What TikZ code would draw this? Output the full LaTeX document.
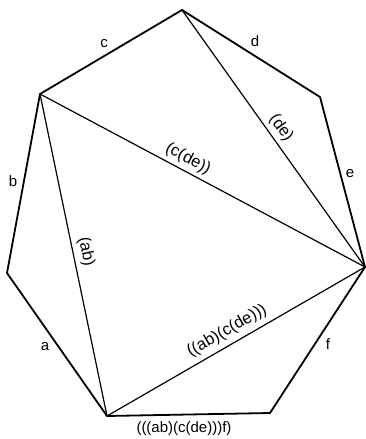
\documentclass[tikz,border=0pt]{standalone}
\usepackage{fontspec}
\setmainfont{Liberation Sans}
\begin{document}
\begin{tikzpicture}[x=1pt,y=-1pt,
  edge/.style={line width=1.8pt, line join=round, line cap=round},
  diag/.style={line width=1.2pt, line cap=round},
  lbl/.style={font=\fontsize{15}{17}\selectfont, inner sep=0pt},
  rlbl/.style={font=\fontsize{16.5}{18}\selectfont, inner sep=0pt}]
\useasboundingbox (0,0) rectangle (365,439);
% vertices
\coordinate (T)  at (182,10);
\coordinate (UL) at (40,94);
\coordinate (UR) at (320,97);
\coordinate (R)  at (365,267);
\coordinate (BR) at (270,413);
\coordinate (BL) at (107,416);
\coordinate (L)  at (7,273);
% outer polygon
\draw[edge] (UL) -- (T) -- (UR) -- (R) -- (BR) -- (BL) -- (L) -- cycle;
% diagonals
\draw[diag] (T) -- (R);
\draw[diag] (UL) -- (R);
\draw[diag] (UL) -- (BL);
\draw[diag] (BL) -- (R);
% edge labels
\node[lbl] (lc) at (104,44) {c};
\node[lbl] (ld) at (255,41) {d};
\node[lbl] (le) at (350,174) {e};
\node[lbl] (lf) at (328,344) {f};
\node[lbl] (la) at (45,347) {a};
\node[lbl] (lb) at (13,181) {b};
% diagonal labels
\node[rlbl, rotate=-54.5] (lde) at (281,128) {(de)};
\node[rlbl, rotate=-28] (lcde) at (188,159) {(c(de))};
\node[rlbl, rotate=-78.2] (lab) at (86,252) {(ab)};
\node[rlbl, rotate=30] (labcde) at (227,331) {((ab)(c(de)))};
\node[lbl] (lall) at (184,429) {(((ab)(c(de)))f)};
\end{tikzpicture}
\end{document}
